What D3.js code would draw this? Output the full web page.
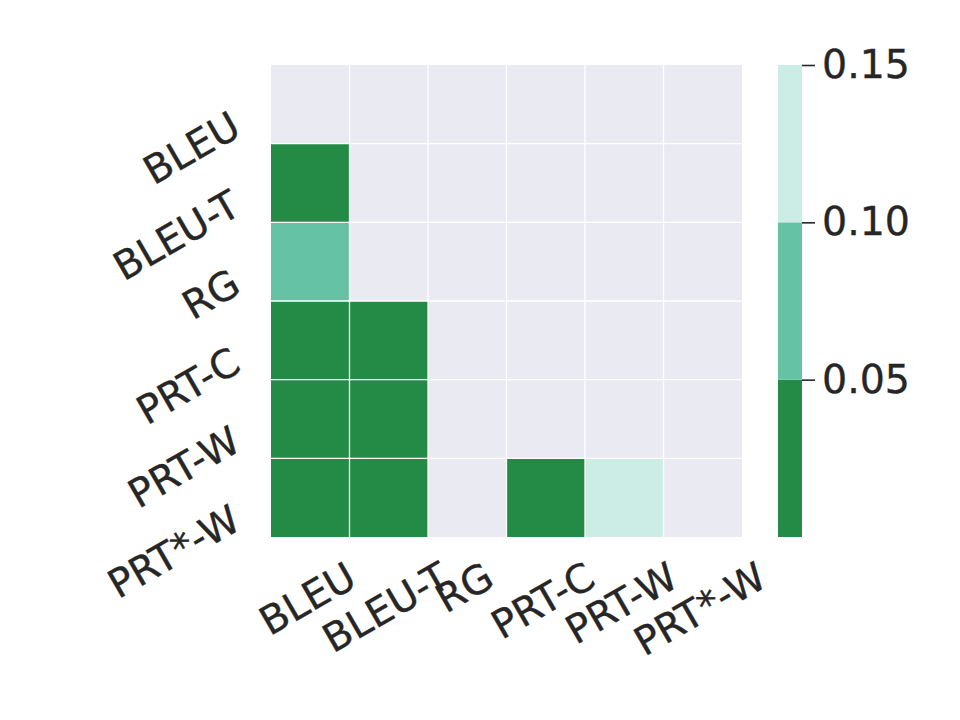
<!DOCTYPE html>
<html>
<head>
<meta charset="utf-8">
<script src="https://cdn.jsdelivr.net/npm/d3@7"></script>
<style>
  body { margin: 0; background: #fff; }
  text { font-family: "DejaVu Sans", sans-serif; fill: #262626; stroke: #262626; stroke-width: 0.35px; }
</style>
</head>
<body>
<svg width="960" height="720"></svg>
<script>
// metric names (rows and columns)
var metrics = ["BLEU", "BLEU-T", "RG", "PRT-C", "PRT-W", "PRT*-W"];
// p-values, null = masked cell
var pValues = [
  [null, null, null, null, null, null],
  [0.01, null, null, null, null, null],
  [0.07, null, null, null, null, null],
  [0.01, 0.01, null, null, null, null],
  [0.01, 0.01, null, null, null, null],
  [0.01, 0.01, null, 0.01, 0.12, null]
];
var binEdges = [0, 0.05, 0.10, 0.15];
var binColors = ["#238b45", "#66c2a4", "#ccece6"];
var cbarTicks = [0.05, 0.10, 0.15];

var svg = d3.select("svg");
var fontSize = 39.5;
var capH = fontSize * 0.729;

var x = d3.scaleBand().domain(metrics).range([271, 742]);
var y = d3.scaleBand().domain(metrics).range([65, 537]);
var color = d3.scaleThreshold().domain(binEdges.slice(1, 3)).range(binColors);

// axes background
svg.append("rect")
    .attr("x", 271).attr("y", 65)
    .attr("width", 471).attr("height", 472)
    .attr("fill", "#eaeaf2");

var cells = [];
pValues.forEach(function(row, i) {
  row.forEach(function(v, j) {
    if (v !== null) cells.push({row: metrics[i], col: metrics[j], value: v});
  });
});

svg.selectAll("rect.cell")
  .data(cells)
  .enter().append("rect")
    .attr("class", "cell")
    .attr("x", function(d) { return x(d.col); })
    .attr("y", function(d) { return y(d.row); })
    .attr("width", x.bandwidth())
    .attr("height", y.bandwidth())
    .attr("fill", function(d) { return color(d.value); });

// white grid lines at cell edges
var edges = d3.range(1, metrics.length);
svg.selectAll("line.vgrid")
  .data(edges)
  .enter().append("line")
    .attr("x1", function(i) { return x.range()[0] + i * x.step(); })
    .attr("x2", function(i) { return x.range()[0] + i * x.step(); })
    .attr("y1", 65).attr("y2", 537)
    .attr("stroke", "#fff").attr("stroke-width", 1.3);
svg.selectAll("line.hgrid")
  .data(edges)
  .enter().append("line")
    .attr("y1", function(i) { return y.range()[0] + i * y.step(); })
    .attr("y2", function(i) { return y.range()[0] + i * y.step(); })
    .attr("x1", 271).attr("x2", 742)
    .attr("stroke", "#fff").attr("stroke-width", 1.3);

// y tick labels
svg.selectAll("text.ylab")
  .data(metrics)
  .enter().append("text")
    .attr("class", "ylab")
    .attr("font-size", fontSize)
    .attr("text-anchor", "end")
    .attr("transform", function(d) {
      var cy = y(d) + y.bandwidth() / 2;
      return "translate(243," + (cy + 5 + 0.866 * capH) + ") rotate(-30)";
    })
    .text(function(d) { return d; });

// x tick labels
svg.selectAll("text.xlab")
  .data(metrics)
  .enter().append("text")
    .attr("class", "xlab")
    .attr("font-size", fontSize)
    .attr("text-anchor", "middle")
    .text(function(d) { return d; })
    .attr("transform", function(d) {
      var w = this.getComputedTextLength();
      var cx = x(d) + x.bandwidth() / 2;
      return "translate(" + (cx + 4) + "," + (560 + 0.25 * w + 0.866 * capH) + ") rotate(-30)";
    });

// colorbar
var cb = d3.scaleLinear().domain([0, 0.15]).range([537, 65]);
svg.selectAll("rect.bin")
  .data(binColors)
  .enter().append("rect")
    .attr("x", 778)
    .attr("width", 24)
    .attr("y", function(c, i) { return cb(binEdges[i + 1]); })
    .attr("height", function(c, i) { return cb(binEdges[i]) - cb(binEdges[i + 1]); })
    .attr("fill", function(c) { return c; });

var cbAxis = svg.append("g")
    .attr("transform", "translate(802,0)")
    .call(d3.axisRight(cb).tickValues(cbarTicks).tickFormat(d3.format(".2f")).tickSize(13).tickPadding(7));
cbAxis.select(".domain").remove();
cbAxis.selectAll("line").attr("stroke", "#262626").attr("stroke-width", 1.6);
cbAxis.selectAll("text")
    .attr("font-size", 39.5)
    .attr("font-family", "DejaVu Sans")
    .attr("fill", "#262626");
</script>
</body>
</html>
